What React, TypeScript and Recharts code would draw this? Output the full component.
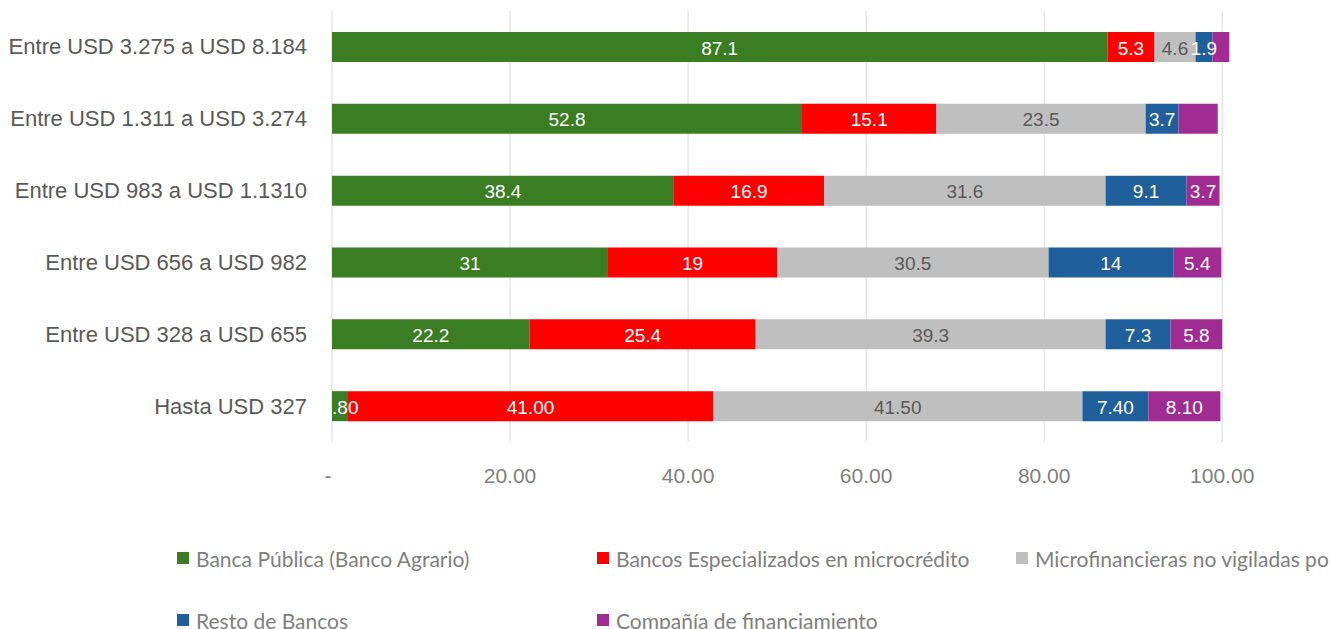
import React from 'react';
import { BarChart, Bar, XAxis, YAxis, CartesianGrid, Legend, LabelList } from 'recharts';

const categories = [
  'Entre USD 3.275 a USD 8.184',
  'Entre USD 1.311 a USD 3.274',
  'Entre USD 983 a USD 1.1310',
  'Entre USD 656 a USD 982',
  'Entre USD 328 a USD 655',
  'Hasta USD 327',
];
const bancaPublica = [87.1, 52.8, 38.4, 31, 22.2, 1.8];
const bancosEspecializados = [5.3, 15.1, 16.9, 19, 25.4, 41.0];
const microfinancieras = [4.6, 23.5, 31.6, 30.5, 39.3, 41.5];
const restoBancos = [1.9, 3.7, 9.1, 14, 7.3, 7.4];
const companiaFinanciamiento = [1.9, 4.4, 3.7, 5.4, 5.8, 8.1];
const xTicks = [0, 20, 40, 60, 80, 100];
const xMax = 102;

// rows whose labels are shown with two decimals, and labels removed in the original
const twoDecimalRows = [5];
const hiddenLabels: Record<string, number[]> = { compania: [0, 1] };

const series = [
  { key: 'banca', name: 'Banca Pública (Banco Agrario)', color: '#3A7D22', text: '#ffffff', values: bancaPublica },
  { key: 'especializados', name: 'Bancos Especializados en microcrédito', color: '#FF0000', text: '#ffffff', values: bancosEspecializados },
  { key: 'micro', name: 'Microfinancieras no vigiladas por la Superfinanciera', color: '#BFBFBF', text: '#595959', values: microfinancieras },
  { key: 'resto', name: 'Resto de Bancos', color: '#1F5F9B', text: '#ffffff', values: restoBancos },
  { key: 'compania', name: 'Compañía de financiamiento', color: '#A02B93', text: '#ffffff', values: companiaFinanciamiento },
];

const data = categories.map((name, i) => {
  const row: Record<string, string | number> = { name };
  series.forEach(s => { row[s.key] = s.values[i]; });
  return row;
});

const FONT = '"Liberation Sans", Arial, sans-serif';

const makeLabel = (key: string, color: string, clip: boolean) => (props: any) => {
  const { x, y, width, height, value, index } = props;
  if ((hiddenLabels[key] || []).includes(index)) return null;
  const text = twoDecimalRows.includes(index) ? Number(value).toFixed(2) : String(value);
  const id = `clip-${key}-${index}`;
  return (
    <g>
      {clip && (
        <defs>
          <clipPath id={id}>
            <rect x={x} y={y - 10} width={width + 200} height={height + 20} />
          </clipPath>
        </defs>
      )}
      <text
        x={x + width / 2}
        y={y + height / 2 + 1}
        textAnchor="middle"
        dominantBaseline="central"
        fill={color}
        fontSize={19}
        fontFamily={FONT}
        clipPath={clip ? `url(#${id})` : undefined}
      >
        {text}
      </text>
    </g>
  );
};

const XTick = ({ x, y, payload }: any) => (
  <text
    x={payload.value === 0 ? x - 4 : x}
    y={y + 33}
    textAnchor="middle"
    dominantBaseline="central"
    fill="#7f7f7f"
    fontSize={21}
    fontFamily={FONT}
  >
    {payload.value === 0 ? '-' : Number(payload.value).toFixed(2)}
  </text>
);

const YTick = ({ x, y, payload }: any) => (
  <text x={x - 25} y={y} textAnchor="end" dominantBaseline="central" fill="#595959" fontSize={22} fontFamily={FONT}>
    {payload.value}
  </text>
);

const legendPos = [
  { left: 177, top: 558 },
  { left: 597, top: 558 },
  { left: 1016, top: 558 },
  { left: 177, top: 620 },
  { left: 597, top: 620 },
];

const LegendContent = () => (
  <div style={{ position: 'relative', width: 1330, height: 629 }}>
    {series.map((s, i) => (
      <div
        key={s.key}
        style={{
          position: 'absolute',
          left: legendPos[i].left,
          top: legendPos[i].top - 14,
          height: 28,
          display: 'flex',
          alignItems: 'center',
          whiteSpace: 'nowrap',
        }}
      >
        <span style={{ width: 12, height: 12, background: s.color, display: 'inline-block', marginRight: 7 }} />
        <span style={{ fontFamily: 'Lato, sans-serif', fontSize: 21, color: '#7f7f7f' }}>{s.name}</span>
      </div>
    ))}
  </div>
);

const gridX = (props: any) => {
  const left = props?.offset?.left ?? 332;
  const width = props?.offset?.width ?? 908;
  return xTicks.map(t => left + (t / xMax) * width);
};

export default function App() {
  return (
    <div style={{ position: 'fixed', left: 0, top: 0, width: 1330, height: 629, overflow: 'hidden', background: '#fff' }}>
      <BarChart
        width={1330}
        height={629}
        data={data}
        layout="vertical"
        margin={{ top: 11, right: 90, bottom: 147, left: 0 }}
      >
        <CartesianGrid horizontal={false} stroke="#d9d9d9" verticalCoordinatesGenerator={gridX} />
        <XAxis
          type="number"
          domain={[0, xMax]}
          ticks={xTicks}
          axisLine={false}
          tickLine={false}
          tickSize={0}
          tickMargin={0}
          height={40}
          tick={<XTick />}
        />
        <YAxis
          type="category"
          dataKey="name"
          width={332}
          axisLine={false}
          tickLine={false}
          tickSize={0}
          tickMargin={0}
          tick={<YTick />}
        />
        <Legend
          layout="horizontal"
          verticalAlign="middle"
          align="center"
          wrapperStyle={{ top: 0, left: 0, width: 1330, height: 629, pointerEvents: 'none' }}
          content={<LegendContent />}
        />
        {series.map(s => (
          <Bar key={s.key} dataKey={s.key} name={s.name} stackId="a" fill={s.color} barSize={30} isAnimationActive={false}>
            <LabelList dataKey={s.key} content={makeLabel(s.key, s.text, s.key === 'banca')} />
          </Bar>
        ))}
      </BarChart>
    </div>
  );
}
